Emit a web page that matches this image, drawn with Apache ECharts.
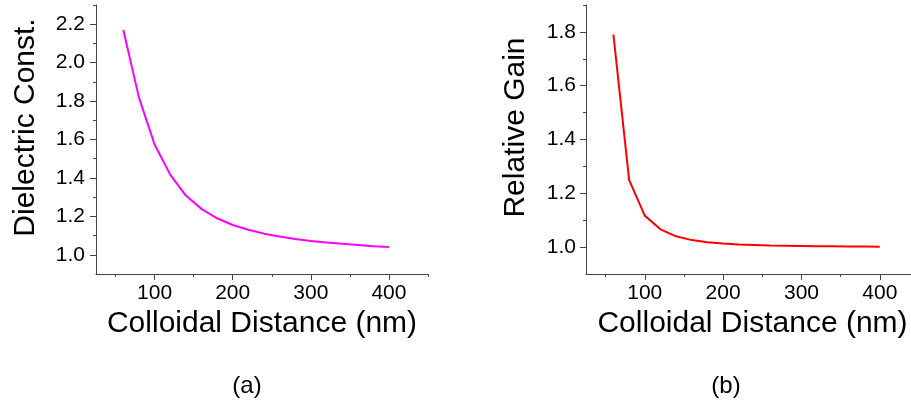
<!DOCTYPE html>
<html>
<head>
<meta charset="utf-8">
<script src="https://cdn.jsdelivr.net/npm/echarts@6/dist/echarts.min.js"></script>
<style>
  html, body { margin: 0; padding: 0; background: #fff; }
  #chart1 { width: 911px; height: 404px; }
</style>
</head>
<body>
<div id="chart1"></div>
<script>
// 横轴：胶体间距 (nm)
const distances = [60, 80, 100, 120, 140, 160, 180, 200, 220, 240, 260, 280, 300, 320, 340, 360, 380, 400];
// (a) 介电常数
const dielectricConst = [2.17, 1.818, 1.574, 1.417, 1.308, 1.239, 1.19, 1.155, 1.13, 1.11, 1.095, 1.082, 1.072, 1.064, 1.057, 1.051, 1.045, 1.04];
// (b) 相对增益
const relativeGain = [1.79, 1.25, 1.117, 1.066, 1.04, 1.026, 1.018, 1.013, 1.01, 1.008, 1.006, 1.005, 1.004, 1.003, 1.003, 1.002, 1.002, 1.001];

// 刻度
const xMajorTicks = [100, 200, 300, 400];
const xMinorTicks = [50, 150, 250, 350, 450];
const aMajorTicks = [1.0, 1.2, 1.4, 1.6, 1.8, 2.0, 2.2];
const aMinorTicks = [1.1, 1.3, 1.5, 1.7, 1.9, 2.1, 2.3];
const bMajorTicks = [1.0, 1.2, 1.4, 1.6, 1.8];
const bMinorTicks = [1.1, 1.3, 1.5, 1.7, 1.9];

const FONT = 'Arial, "Liberation Sans", sans-serif';
const AXIS_COLOR = '#444';

function initChart() {
    const chart = echarts.init(document.getElementById('chart1'), null, { renderer: 'canvas' });

    // 只画刻度线的辅助坐标轴
    function tickOnly(len, values) {
        return {
            axisLine: { show: false, onZero: false },
            axisTick: { show: true, inside: false, length: len, customValues: values, lineStyle: { color: AXIS_COLOR, width: 1 } },
            axisLabel: { show: false },
            splitLine: { show: false }
        };
    }

    function xAxisList(gridIndex) {
        return [
            {
                type: 'value', gridIndex, min: 25, max: 450, position: 'bottom', offset: 0,
                name: 'Colloidal Distance (nm)', nameLocation: 'middle', nameGap: 27,
                nameTextStyle: { fontFamily: FONT, fontSize: 30, color: '#000' },
                axisLine: { show: true, onZero: false, lineStyle: { color: AXIS_COLOR, width: 1 } },
                axisTick: { show: false },
                axisLabel: { show: true, customValues: xMajorTicks, margin: 9, fontFamily: FONT, fontSize: 21, color: '#000' },
                splitLine: { show: false }
            },
            Object.assign({ type: 'value', gridIndex, min: 25, max: 450, position: 'bottom', offset: 0 }, tickOnly(6, xMajorTicks)),
            Object.assign({ type: 'value', gridIndex, min: 25, max: 450, position: 'bottom', offset: 0 }, tickOnly(3, xMinorTicks))
        ];
    }

    function yAxisList(gridIndex, name, min, max, major, minor, labelMargin) {
        return [
            {
                type: 'value', gridIndex, min, max, position: 'left', offset: 0,
                name, nameLocation: 'middle', nameGap: 55,
                nameTextStyle: { fontFamily: FONT, fontSize: 30, color: '#000', padding: [0, 0, 0, 24] },
                axisLine: { show: true, onZero: false, lineStyle: { color: AXIS_COLOR, width: 1 } },
                axisTick: { show: false },
                axisLabel: {
                    show: true, customValues: major, margin: labelMargin,
                    fontFamily: FONT, fontSize: 21, color: '#000',
                    formatter: v => v.toFixed(1)
                },
                splitLine: { show: false }
            },
            Object.assign({ type: 'value', gridIndex, min, max, position: 'left', offset: 0 }, tickOnly(6, major)),
            Object.assign({ type: 'value', gridIndex, min, max, position: 'left', offset: 0 }, tickOnly(3, minor))
        ];
    }

    const option = {
        animation: false,
        backgroundColor: '#fff',
        title: [
            { text: '(a)', left: 242, top: 369, textAlign: 'center', textStyle: { fontFamily: FONT, fontSize: 24, fontWeight: 'normal', color: '#000' } },
            { text: '(b)', left: 721, top: 369, textAlign: 'center', textStyle: { fontFamily: FONT, fontSize: 24, fontWeight: 'normal', color: '#000' } }
        ],
        grid: [
            { left: 96, top: 5, width: 332, height: 269, outerBoundsMode: 'none' },
            { left: 586, top: 5, width: 333, height: 269, outerBoundsMode: 'none' }
        ],
        xAxis: [...xAxisList(0), ...xAxisList(1)],
        yAxis: [
            ...yAxisList(0, 'Dielectric Const.', 0.9, 2.3, aMajorTicks, aMinorTicks, 11),
            ...yAxisList(1, 'Relative Gain', 0.9, 1.9, bMajorTicks, bMinorTicks, 10)
        ],
        series: [
            {
                type: 'line', name: 'Dielectric Const.',
                xAxisIndex: 0, yAxisIndex: 0,
                data: distances.map((d, i) => [d, dielectricConst[i]]),
                showSymbol: false, smooth: false,
                lineStyle: { color: '#FF00FF', width: 2 }
            },
            {
                type: 'line', name: 'Relative Gain',
                xAxisIndex: 3, yAxisIndex: 3,
                data: distances.map((d, i) => [d, relativeGain[i]]),
                showSymbol: false, smooth: false,
                lineStyle: { color: '#FF0000', width: 2 }
            }
        ]
    };

    chart.setOption(option);
}

window.addEventListener('load', initChart);
</script>
</body>
</html>
